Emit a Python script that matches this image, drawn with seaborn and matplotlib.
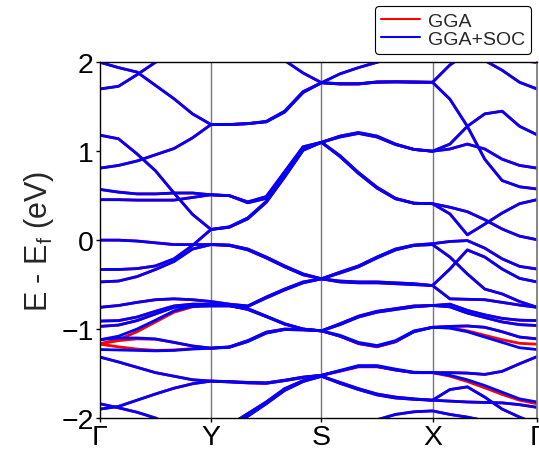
import numpy as np
import pandas as pd
import matplotlib
matplotlib.use("Agg")
import matplotlib.pyplot as plt
import seaborn as sns
from matplotlib.lines import Line2D

# ---------------- data ----------------
kpath_labels = ["Γ", "Y", "S", "X", "Γ"]
segment_lengths = [0.1110, 0.1105, 0.1110, 0.1045]   # path segment lengths (1/Å)
points_per_segment = 7                                 # samples per segment incl. ends
y_ticks = [-2, -1, 0, 1, 2]

# GGA+SOC band energies (eV) along Γ-Y-S-X-Γ (25 samples each)
band_01 = [2.0, 1.94, 1.89, 1.74, 1.59, 1.42, 1.30, 1.30, 1.31, 1.33, 1.44, 1.66, 1.77,
           1.755, 1.755, 1.78, 1.78, 1.775, 1.775, 1.97, 2.1, 2.02, 1.91, 1.775, 1.70]
band_02 = [1.70, 1.73, 1.86, 2.0, 2.12, 2.22, 2.28, 2.30, 2.28, 2.20, 2.02, 1.88, 1.77,
           1.87, 1.94, 2.0, 2.06, 2.10, 2.12, 2.15, 2.15, 2.1, 2.05, 2.02, 2.0]
band_03 = [1.18, 1.14, 0.97, 0.78, 0.53, 0.29, 0.12, 0.145, 0.24, 0.425, 0.71, 1.01, 1.10,
           1.17, 1.21, 1.17, 1.08, 1.02, 1.0, 1.08, 1.28, 1.42, 1.45, 1.28, 1.185]
band_04 = [0.81, 0.84, 0.89, 0.96, 1.03, 1.15, 1.30, 1.30, 1.31, 1.335, 1.45, 1.67, 1.77,
           1.76, 1.76, 1.775, 1.78, 1.78, 1.775, 1.585, 1.28, 0.91, 0.67, 0.60, 0.575]
band_05 = [0.57, 0.54, 0.52, 0.52, 0.53, 0.53, 0.51, 0.50, 0.42, 0.47, 0.75, 1.04, 1.10,
           1.16, 1.20, 1.16, 1.075, 1.02, 1.0, 1.025, 1.08, 1.025, 0.91, 0.84, 0.81]
band_06 = [0.455, 0.455, 0.45, 0.45, 0.45, 0.48, 0.51, 0.50, 0.43, 0.49, 0.77, 1.05, 1.10,
           0.95, 0.76, 0.595, 0.47, 0.415, 0.41, 0.37, 0.32, 0.23, 0.125, 0.045, 0.005]
band_07 = [0.0, 0.0, -0.01, -0.03, -0.05, -0.05, -0.05, -0.055, -0.10, -0.19, -0.29, -0.38, -0.435,
           -0.36, -0.29, -0.19, -0.10, -0.055, -0.04, -0.015, -0.005, -0.09, -0.21, -0.295, -0.325]
band_08 = [-0.33, -0.33, -0.32, -0.29, -0.21, -0.06, 0.12, 0.15, 0.25, 0.435, 0.72, 1.02, 1.10,
           0.94, 0.75, 0.585, 0.465, 0.415, 0.41, 0.295, 0.06, 0.18, 0.305, 0.41, 0.455]
band_09 = [-0.47, -0.46, -0.41, -0.33, -0.24, -0.10, -0.05, -0.06, -0.11, -0.20, -0.30, -0.39, -0.435,
           -0.37, -0.30, -0.20, -0.11, -0.06, -0.05, -0.19, -0.38, -0.55, -0.605, -0.69, -0.755]
band_10 = [-0.755, -0.735, -0.70, -0.67, -0.66, -0.67, -0.69, -0.72, -0.74, -0.64, -0.55, -0.47, -0.435,
           -0.46, -0.47, -0.47, -0.48, -0.49, -0.51, -0.325, -0.11, -0.19, -0.325, -0.43, -0.47]
band_11 = [-0.91, -0.905, -0.865, -0.80, -0.74, -0.72, -0.72, -0.735, -0.745, -0.65, -0.56, -0.48, -0.435,
           -0.47, -0.48, -0.48, -0.49, -0.50, -0.51, -0.66, -0.665, -0.67, -0.70, -0.73, -0.755]
band_12 = [-0.97, -0.955, -0.905, -0.83, -0.755, -0.745, -0.74, -0.74, -0.77, -0.855, -0.94, -1.0, -1.02,
           -0.94, -0.855, -0.80, -0.77, -0.74, -0.735, -0.72, -0.79, -0.84, -0.88, -0.90, -0.905]
band_13 = [-1.12, -1.08, -1.0, -0.90, -0.795, -0.74, -0.73, -0.735, -0.78, -0.86, -0.945, -1.0, -1.02,
           -0.95, -0.865, -0.81, -0.78, -0.75, -0.735, -0.75, -0.82, -0.87, -0.92, -0.95, -0.96]
band_14 = [-1.12, -1.10, -1.10, -1.11, -1.15, -1.19, -1.215, -1.20, -1.13, -1.035, -1.0, -1.005, -1.02,
           -1.07, -1.15, -1.185, -1.13, -1.02, -0.98, -0.97, -0.965, -0.98, -1.03, -1.09, -1.11]
band_15 = [-1.23, -1.235, -1.24, -1.245, -1.24, -1.225, -1.215, -1.205, -1.14, -1.045, -1.005, -1.01, -1.02,
           -1.08, -1.16, -1.195, -1.14, -1.03, -0.98, -0.99, -1.03, -1.09, -1.15, -1.21, -1.23]
band_16 = [-1.315, -1.37, -1.43, -1.49, -1.53, -1.57, -1.585, -1.59, -1.60, -1.605, -1.575, -1.54, -1.52,
           -1.465, -1.41, -1.41, -1.45, -1.485, -1.49, -1.49, -1.495, -1.51, -1.475, -1.39, -1.31]
band_17 = [-1.90, -1.87, -1.80, -1.73, -1.665, -1.615, -1.585, -1.595, -1.605, -1.61, -1.58, -1.545, -1.52,
           -1.47, -1.42, -1.42, -1.46, -1.49, -1.49, -1.52, -1.57, -1.635, -1.71, -1.785, -1.82]
band_18 = [-1.84, -1.885, -1.935, -2.0, -2.1, -2.2, -2.3, -2.08, -1.95, -1.82, -1.67, -1.58, -1.53,
           -1.60, -1.67, -1.73, -1.765, -1.785, -1.80, -1.68, -1.65, -1.765, -1.90, -1.99, -2.07]
band_19 = [-2.5, -2.5, -2.45, -2.4, -2.4, -2.38, -2.35, -2.12, -1.98, -1.84, -1.69, -1.59, -1.53,
           -1.61, -1.68, -1.74, -1.775, -1.79, -1.80, -1.81, -1.82, -1.825, -1.83, -1.85, -1.88]
band_20 = [-2.6, -2.6, -2.6, -2.55, -2.5, -2.45, -2.4, -2.4, -2.4, -2.38, -2.35, -2.32, -2.3,
           -2.2, -2.1, -2.02, -1.96, -1.93, -1.92, -1.96, -1.99, -2.03, -2.1, -2.15, -2.2]

# GGA (no SOC) bands that differ visibly from the SOC ones
gga_band_13 = [-1.165, -1.12, -1.03, -0.92, -0.81, -0.75, -0.72, -0.735, -0.78, -0.86, -0.945, -1.0, -1.02,
               -0.95, -0.865, -0.81, -0.78, -0.75, -0.735, -0.75, -0.82, -0.87, -0.92, -0.95, -0.96]
gga_band_14 = [-1.165, -1.13, -1.11, -1.115, -1.15, -1.19, -1.215, -1.20, -1.13, -1.035, -1.0, -1.005, -1.02,
               -1.08, -1.165, -1.20, -1.145, -1.025, -0.98, -0.97, -0.965, -0.98, -1.03, -1.09, -1.11]
gga_band_15 = [-1.17, -1.20, -1.225, -1.24, -1.235, -1.22, -1.215, -1.205, -1.14, -1.045, -1.005, -1.01, -1.02,
               -1.08, -1.16, -1.195, -1.14, -1.03, -0.98, -0.985, -1.02, -1.07, -1.12, -1.16, -1.17]
gga_band_16 = [-1.315, -1.37, -1.43, -1.49, -1.53, -1.57, -1.585, -1.59, -1.60, -1.605, -1.575, -1.54, -1.52,
               -1.475, -1.425, -1.425, -1.46, -1.49, -1.49, -1.49, -1.495, -1.51, -1.475, -1.39, -1.31]
gga_band_17 = [-1.90, -1.87, -1.80, -1.73, -1.665, -1.615, -1.585, -1.595, -1.605, -1.61, -1.58, -1.545, -1.52,
               -1.47, -1.42, -1.42, -1.46, -1.49, -1.49, -1.53, -1.59, -1.66, -1.735, -1.80, -1.84]

soc_bands = [band_01, band_02, band_03, band_04, band_05, band_06, band_07, band_08, band_09, band_10,
             band_11, band_12, band_13, band_14, band_15, band_16, band_17, band_18, band_19, band_20]
gga_bands = list(soc_bands)
gga_bands[12] = gga_band_13
gga_bands[13] = gga_band_14
gga_bands[14] = gga_band_15
gga_bands[15] = gga_band_16
gga_bands[16] = gga_band_17

# ---------------- k grid ----------------
k_ticks = np.concatenate([[0.0], np.cumsum(segment_lengths)])
k_grid = [k_ticks[0]]
for i in range(len(segment_lengths)):
    seg = np.linspace(k_ticks[i], k_ticks[i + 1], points_per_segment)[1:]
    k_grid.extend(seg)
k_grid = np.array(k_grid)


def to_frame(bands):
    rows = []
    for b, energies in enumerate(bands):
        for k, e in zip(k_grid, energies):
            rows.append({"k": k, "E": e, "band": b})
    return pd.DataFrame(rows)


df_gga = to_frame(gga_bands)
df_soc = to_frame(soc_bands)

# ---------------- plot ----------------
sns.set_theme(style="white")
plt.rcParams["font.family"] = ["Liberation Sans", "DejaVu Sans"]
plt.rcParams["mathtext.fontset"] = "custom"
plt.rcParams["mathtext.rm"] = "Liberation Sans"
plt.rcParams["mathtext.it"] = "Liberation Sans:italic"

fig = plt.figure(figsize=(5.39, 4.52), dpi=100)
ax = fig.add_axes([0.1855, 0.073, 0.8108, 0.787])

sns.lineplot(data=df_gga, x="k", y="E", units="band", estimator=None, sort=False,
             color="red", lw=2.0, ax=ax, legend=False)
sns.lineplot(data=df_soc, x="k", y="E", units="band", estimator=None, sort=False,
             color="blue", lw=2.0, ax=ax, legend=False)

for k in k_ticks[1:-1]:
    ax.axvline(k, color="#777777", lw=1.0, zorder=0)

ax.set_xlim(k_ticks[0], k_ticks[-1])
ax.set_ylim(-2, 2)
ax.set_xticks(k_ticks)
ax.set_xticklabels(kpath_labels)
ax.set_yticks(y_ticks)
ax.tick_params(axis="both", labelsize=20.5, length=3, width=1, colors="black",
               direction="out", left=True, bottom=True, pad=1.5)
ax.set_xlabel("")
ax.set_ylabel("E - E$_\\mathrm{f}$ (eV)", fontsize=22, labelpad=4)

for side in ["left", "bottom", "top"]:
    ax.spines[side].set_color("black")
    ax.spines[side].set_linewidth(1.0)
ax.spines["right"].set_color("#777777")

handles = [Line2D([0], [0], color="red", lw=1.5), Line2D([0], [0], color="blue", lw=1.5)]
leg = ax.legend(handles, ["GGA", "GGA+SOC"], loc="upper right", bbox_to_anchor=(0.986, 1.158),
                fontsize=14, borderaxespad=0, frameon=True, fancybox=True, framealpha=1,
                edgecolor="black", labelspacing=0.05, borderpad=0.3, handlelength=2.0,
                handletextpad=0.4)
leg.get_frame().set_linewidth(0.8)

fig.savefig("out.png", dpi=100)
